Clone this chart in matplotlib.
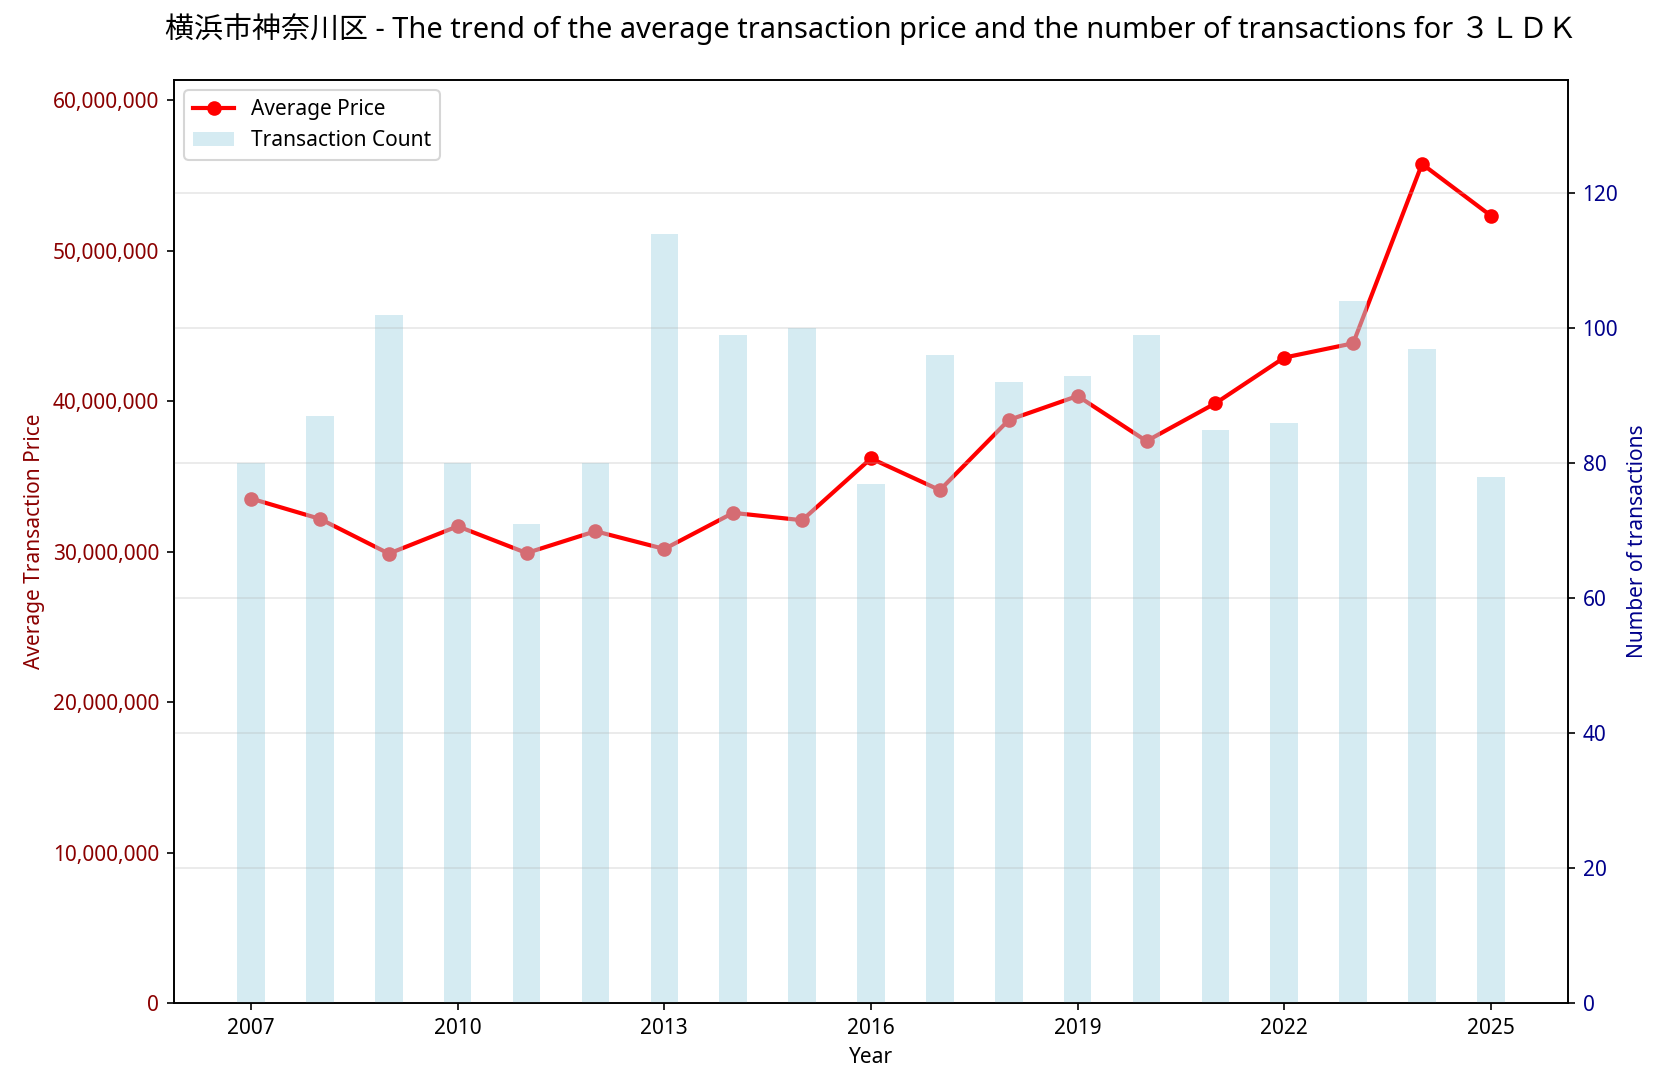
import matplotlib
matplotlib.use('Agg')
import matplotlib.pyplot as plt
from matplotlib.ticker import FuncFormatter

plt.rcParams['font.family'] = ['Noto Sans', 'Noto Sans CJK JP', 'DejaVu Sans']

years = [2007, 2008, 2009, 2010, 2011, 2012, 2013, 2014, 2015, 2016,
         2017, 2018, 2019, 2020, 2021, 2022, 2023, 2024, 2025]
avg_price = [33530000, 32180000, 29870000, 31690000, 29910000, 31360000, 30180000,
             32580000, 32090000, 36200000, 34090000, 38750000, 40350000, 37350000,
             39860000, 42900000, 43850000, 55770000, 52330000]
counts = [80, 87, 102, 80, 71, 80, 114, 99, 100, 77,
          96, 92, 93, 99, 85, 86, 104, 97, 78]
xticks = [2007, 2010, 2013, 2016, 2019, 2022, 2025]

fig, ax = plt.subplots(figsize=(1666/150, 1082/150), dpi=150)
fig.subplots_adjust(left=0.1044, right=0.9412, top=0.926, bottom=0.073)

ax2 = ax.twinx()

line, = ax.plot(years, avg_price, color='red', marker='o', linewidth=2,
                markersize=6, label='Average Price')
bars = ax2.bar(years, counts, width=0.4, color='lightblue', alpha=0.5,
               label='Transaction Count')

ax.set_ylim(0, max(avg_price) * 1.1)
ax2.set_ylim(0, max(counts) * 1.2)
ax.set_xticks(xticks)

ax.yaxis.set_major_formatter(FuncFormatter(lambda v, p: f'{int(v):,}'))
ax.tick_params(axis='y', labelcolor='darkred')
ax2.tick_params(axis='y', labelcolor='darkblue')
ax.set_xlabel('Year')
ax.set_ylabel('Average Transaction Price', color='darkred')
ax2.set_ylabel('Number of transactions', color='darkblue')
ax2.grid(axis='y', alpha=0.3)

ax2.legend([line, bars], ['Average Price', 'Transaction Count'], loc='upper left')

ax.set_title('横浜市神奈川区 - The trend of the average transaction price and the number of transactions for ３ＬＤＫ',
             fontsize=13.9, pad=20)

plt.savefig('out.png', dpi=150)
plt.close()
